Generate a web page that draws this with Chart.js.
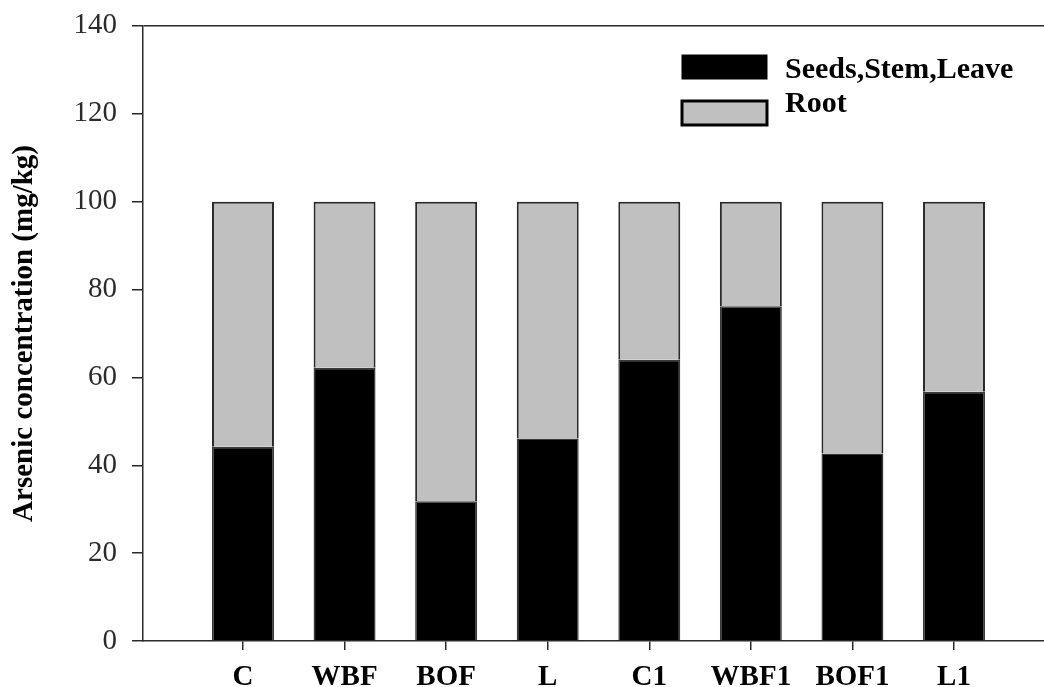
<!DOCTYPE html>
<html>
<head>
<meta charset="utf-8">
<title>Arsenic concentration</title>
<script src="https://cdn.jsdelivr.net/npm/chart.js@4/dist/chart.umd.min.js"></script>
<style>
  html, body { margin: 0; padding: 0; background: #fff; }
  #wrap { width: 1044px; height: 687px; }
</style>
</head>
<body>
<div id="wrap"><canvas id="chart"></canvas></div>
<script>
const categories = ['C', 'WBF', 'BOF', 'L', 'C1', 'WBF1', 'BOF1', 'L1'];
const seedsStemLeave = [44.2, 62.2, 31.8, 46.1, 64.0, 76.2, 42.7, 56.7];
const root = [55.8, 37.8, 68.2, 53.9, 36.0, 23.8, 57.3, 43.3];
const yTicks = [0, 20, 40, 60, 80, 100, 120, 140];

const serif = '"Liberation Serif", "Times New Roman", serif';
const axisColor = '#2a2a2a';

// bars sit on a numeric x axis so the gap before the first group is kept
const toPoints = values => values.map((v, i) => ({ x: i + 1, y: v }));

// legend boxes drawn by hand in the upper right of the plot
const boxLegend = {
  id: 'boxLegend',
  afterDraw(chart) {
    const ctx = chart.ctx;
    const rows = [
      { y: 55, base: 78 },
      { y: 101, base: 112 }
    ];
    chart.data.datasets.forEach((ds, i) => {
      const r = rows[i];
      ctx.save();
      ctx.fillStyle = ds.backgroundColor;
      ctx.fillRect(682, r.y, 85, 24);
      ctx.lineWidth = i === 0 ? 1 : 3;
      ctx.strokeStyle = '#000';
      ctx.strokeRect(682, r.y, 85, 24);
      ctx.fillStyle = '#000';
      ctx.font = 'bold 30px ' + serif;
      ctx.textBaseline = 'alphabetic';
      ctx.fillText(ds.label, 785, r.base);
      ctx.restore();
    });
  }
};

new Chart(document.getElementById('chart').getContext('2d'), {
  type: 'bar',
  data: {
    datasets: [
      {
        label: 'Seeds,Stem,Leave',
        data: toPoints(seedsStemLeave),
        backgroundColor: '#000000',
        borderColor: '#3a3a3a',
        borderWidth: 1.5,
        categoryPercentage: 1,
        barPercentage: 0.61
      },
      {
        label: 'Root',
        data: toPoints(root),
        backgroundColor: '#c0c0c0',
        borderColor: '#2a2a2a',
        borderWidth: 2,
        categoryPercentage: 1,
        barPercentage: 0.61
      }
    ]
  },
  options: {
    responsive: true,
    maintainAspectRatio: false,
    animation: false,
    layout: { padding: { top: 0, right: 0, bottom: 0, left: 0 } },
    plugins: {
      legend: { display: false },
      tooltip: { enabled: false }
    },
    scales: {
      x: {
        type: 'linear',
        stacked: true,
        offset: false,
        min: 0.0155,
        max: 8.886,
        afterBuildTicks: scale => {
          scale.ticks = categories.map((c, i) => ({ value: i + 1 }));
        },
        afterFit: scale => { scale.height = 46; },
        border: { display: true, color: axisColor, width: 1.5 },
        grid: {
          offset: false,
          drawOnChartArea: false,
          drawTicks: true,
          tickLength: 9,
          tickColor: axisColor,
          lineWidth: 1.5
        },
        ticks: {
          callback: v => categories[v - 1],
          color: '#000',
          padding: 10,
          maxRotation: 0,
          autoSkip: false,
          font: { family: serif, size: 29, weight: 'bold' }
        }
      },
      y: {
        stacked: true,
        min: 0,
        max: 140,
        afterBuildTicks: scale => {
          scale.ticks = yTicks.map(v => ({ value: v }));
        },
        afterFit: scale => { scale.width = 143; },
        border: { display: true, color: axisColor, width: 1.5 },
        grid: {
          color: ctx => (ctx.tick && ctx.tick.value === 140 ? axisColor : 'rgba(0,0,0,0)'),
          lineWidth: 1.5,
          drawTicks: true,
          tickLength: 11,
          tickColor: axisColor
        },
        ticks: {
          color: '#2b2b2b',
          padding: 15,
          font: { family: serif, size: 29, lineHeight: 0.75 }
        },
        title: {
          display: true,
          text: 'Arsenic concentration (mg/kg)',
          color: '#000',
          padding: { top: 7, bottom: 0 },
          font: { family: serif, size: 29, weight: 'bold' }
        }
      }
    }
  },
  plugins: [boxLegend]
});
</script>
</body>
</html>
